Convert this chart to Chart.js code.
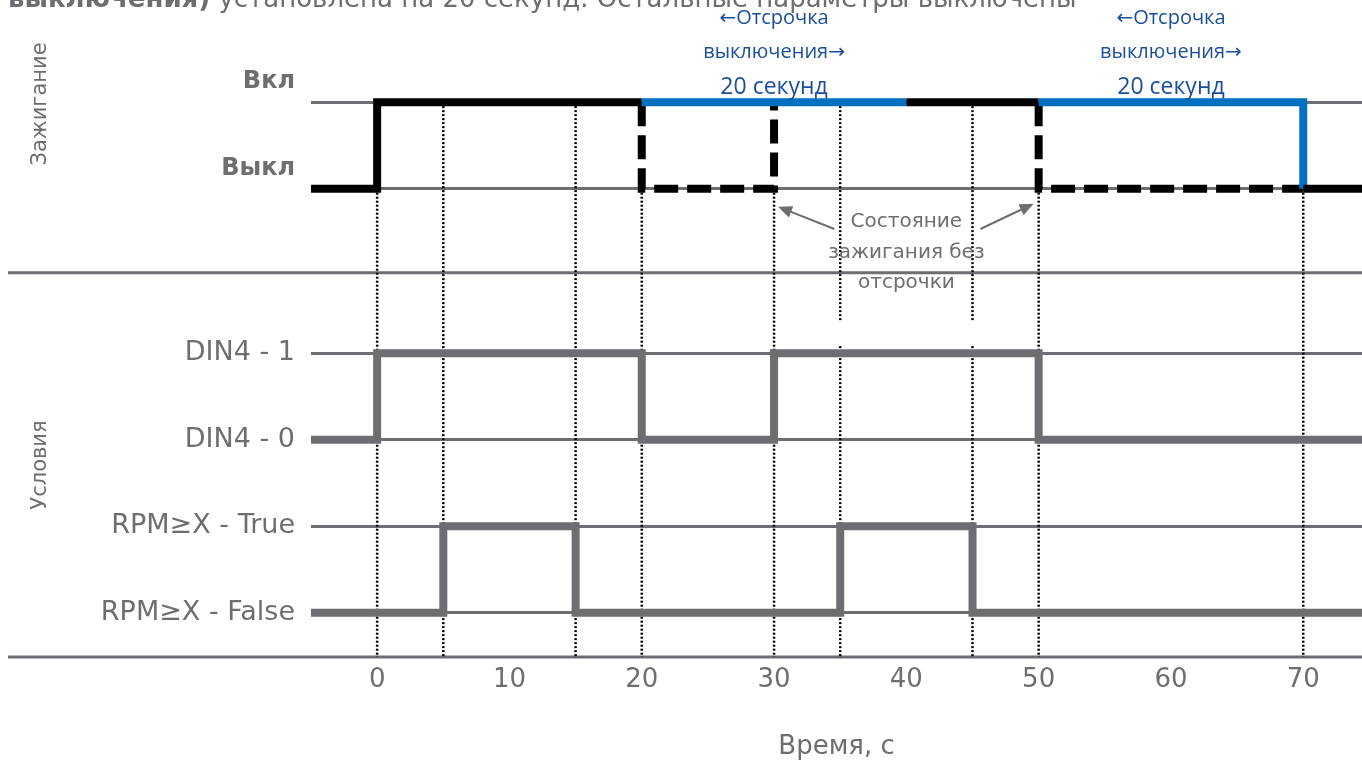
<!DOCTYPE html>
<html>
<head>
<meta charset="utf-8">
<script src="https://cdn.jsdelivr.net/npm/chart.js@4.4.0/dist/chart.umd.min.js"></script>
<style>
  html, body { margin: 0; padding: 0; background: #fff; }
  canvas { display: block; }
</style>
</head>
<body>
<canvas id="grafico" width="1362" height="767"></canvas>
<script>
// уровни по оси Y
var levelNames = ["RPM≥X - False", "RPM≥X - True", "DIN4 - 0", "DIN4 - 1", "Выкл", "Вкл"];
var levelValues = [0, 1, 2, 3, 4.9, 5.9];
var xTicks = [0, 10, 20, 30, 40, 50, 60, 70];

// зажигание с отсрочкой
var ignTime = [-5, 0, 20, 40, 50, 70, 75];
var ignLevel = [4.9, 5.9, 5.9, 5.9, 5.9, 4.9, 4.9];
var delayStart = [20, 50];
var delayEnd = [40, 70];

// зажигание без отсрочки
var rawTime = [20, 20, 30, 40, 50, 50, 70];
var rawLevel = [5.9, 4.9, 5.9, null, 5.9, 4.9, 4.9];

var dinTime = [-5, 0, 20, 30, 50, 75];
var dinLevel = [2, 3, 2, 3, 2, 2];

var rpmTime = [-5, 5, 15, 35, 45, 75];
var rpmLevel = [0, 1, 0, 1, 0, 0];

// вертикальные пунктиры
var markTime = [0, 5, 15, 20, 30, 35, 45, 50, 70];
var markTop = [4.9, 5.9, 5.9, 4.9, 4.9, 5.9, 5.9, 4.9, 4.9];

var gray = "#6d6e71";
var blue = "#0070c0";
var textBlue = "#1b4f9c";
var sepLevel = 3.93;

function pts(t, v) { return t.map((x, i) => ({ x: x, y: v[i] })); }

function inDelay(x) {
  for (var i = 0; i < delayStart.length; i++) {
    if (x >= delayStart[i] && x < delayEnd[i]) return true;
  }
  return false;
}

// текст со стрелками покрупнее
function drawParts(c, parts, cx, y) {
  var total = 0;
  parts.forEach(function (p) { c.font = p[1]; total += c.measureText(p[0]).width; });
  var x = cx - total / 2;
  c.textAlign = "left";
  parts.forEach(function (p) { c.font = p[1]; c.fillText(p[0], x, y + (p[2] || 0)); x += c.measureText(p[0]).width; });
  c.textAlign = "center";
}

var extras = {
  id: "extras",
  beforeDatasetsDraw(chart) {
    var c = chart.ctx, xs = chart.scales.x, ys = chart.scales.y;
    c.save();
    // разделители
    c.strokeStyle = gray;
    c.lineWidth = 3;
    [sepLevel, ys.min].forEach(function (v) {
      var y = ys.getPixelForValue(v);
      c.beginPath(); c.moveTo(8, y); c.lineTo(chart.width, y); c.stroke();
    });
    // пунктиры
    c.strokeStyle = "#000";
    c.lineWidth = 2.5;
    c.setLineDash([2, 2]);
    markTime.forEach(function (t, i) {
      var x = xs.getPixelForValue(t);
      c.beginPath();
      c.moveTo(x, ys.getPixelForValue(markTop[i]));
      c.lineTo(x, ys.getPixelForValue(ys.min));
      c.stroke();
    });
    c.setLineDash([]);
    // белая подложка под подписью
    var cx = xs.getPixelForValue(40);
    c.fillStyle = "#fff";
    c.fillRect(cx - 85, 322, 170, 24);
    c.restore();
  },
  afterDraw(chart) {
    var c = chart.ctx, xs = chart.scales.x, ys = chart.scales.y;
    c.save();
    // подписи слева
    c.fillStyle = gray;
    c.font = "21px 'DejaVu Sans'";
    c.textAlign = "center";
    c.textBaseline = "alphabetic";
    [["Зажигание", 104], ["Условия", 465]].forEach(function (l) {
      c.save(); c.translate(46, l[1]); c.rotate(-Math.PI / 2); c.fillText(l[0], 0, 0); c.restore();
    });
    // отсрочка
    c.fillStyle = textBlue;
    c.textBaseline = "middle";
    var fTxt = "20px 'Open Sans'", fArr = "20px 'DejaVu Sans'";
    delayStart.forEach(function (s, i) {
      var x = xs.getPixelForValue((s + delayEnd[i]) / 2);
      drawParts(c, [["←", fArr, 1], ["Отсрочка", fTxt]], x, 18);
      drawParts(c, [["выключения", fTxt], ["→", fArr, 1]], x, 52);
      c.font = "23px 'Open Sans'";
      c.fillText("20 секунд", x, 87);
    });
    // состояние без отсрочки
    var cx = xs.getPixelForValue(40);
    c.fillStyle = gray;
    c.font = "20px 'DejaVu Sans'";
    c.fillText("Состояние", cx, 222);
    c.fillText("зажигания без", cx, 253);
    c.fillText("отсрочки", cx, 283);
    var yOff = ys.getPixelForValue(4.9);
    arrow(c, cx - 72, 229, xs.getPixelForValue(30) + 4, yOff + 18);
    arrow(c, cx + 74, 229, xs.getPixelForValue(50) - 5, yOff + 15);
    // обрезанный заголовок
    c.textAlign = "left";
    c.textBaseline = "alphabetic";
    c.fillStyle = gray;
    c.font = "bold 26px 'DejaVu Sans'";
    c.fillText("выключения)", 8, 7);
    var w = c.measureText("выключения)").width;
    c.font = "26px 'DejaVu Sans'";
    c.fillText(" установлена на 20 секунд. Остальные параметры выключены", 8 + w, 7);
    c.restore();
  }
};

function arrow(c, x0, y0, x1, y1) {
  var a = Math.atan2(y1 - y0, x1 - x0);
  c.strokeStyle = gray; c.fillStyle = gray; c.lineWidth = 2;
  c.beginPath(); c.moveTo(x0, y0);
  c.lineTo(x1 - 10 * Math.cos(a), y1 - 10 * Math.sin(a)); c.stroke();
  c.beginPath();
  c.moveTo(x1, y1);
  c.lineTo(x1 - 14 * Math.cos(a) + 6 * Math.sin(a), y1 - 14 * Math.sin(a) - 6 * Math.cos(a));
  c.lineTo(x1 - 14 * Math.cos(a) - 6 * Math.sin(a), y1 - 14 * Math.sin(a) + 6 * Math.cos(a));
  c.closePath(); c.fill();
}

var common = { pointRadius: 0, borderWidth: 8, stepped: true, fill: false, borderJoinStyle: "miter", borderCapStyle: "butt", spanGaps: false };

new Chart(document.getElementById("grafico").getContext("2d"), {
  type: "line",
  data: {
    datasets: [
      Object.assign({}, common, {
        label: "Зажигание", order: 0, data: pts(ignTime, ignLevel), borderColor: "#000",
        segment: { borderColor: ctx => inDelay(ctx.p0.parsed.x) ? blue : "#000" }
      }),
      Object.assign({}, common, {
        label: "Без отсрочки", order: 1, data: pts(rawTime, rawLevel), borderColor: "#000", borderDash: [24, 9]
      }),
      Object.assign({}, common, { label: "DIN4", order: 2, data: pts(dinTime, dinLevel), borderColor: gray }),
      Object.assign({}, common, { label: "RPM", order: 2, data: pts(rpmTime, rpmLevel), borderColor: gray })
    ]
  },
  options: {
    responsive: false,
    animation: false,
    layout: { padding: 0 },
    plugins: { legend: { display: false }, tooltip: { enabled: false } },
    scales: {
      x: {
        type: "linear", min: -5, max: 74.44,
        afterBuildTicks: s => { s.ticks = xTicks.map(v => ({ value: v })); },
        afterFit: s => { s.height = 110; s.paddingLeft = 0; s.paddingRight = 0; },
        grid: { display: false }, border: { display: false },
        ticks: { color: gray, font: { family: "'DejaVu Sans'", size: 26 }, padding: 0, maxRotation: 0 },
        title: { display: true, text: "Время, с", color: gray, font: { family: "'DejaVu Sans'", size: 26 }, padding: { top: 4, bottom: 4 } }
      },
      y: {
        type: "linear", min: -0.51, max: 7.08,
        afterBuildTicks: s => { s.ticks = levelValues.map(v => ({ value: v })); },
        afterFit: s => { s.width = 311; s.paddingTop = 0; s.paddingBottom = 0; },
        grid: { color: gray, lineWidth: 3, drawTicks: false }, border: { display: false },
        ticks: {
          padding: 16, color: gray,
          callback: v => { var i = levelValues.indexOf(v); return i >= 4 ? [levelNames[i], ""] : levelNames[i]; },
          font: ctx => (ctx.tick && ctx.tick.value > 4)
            ? { family: "'DejaVu Sans'", size: 24, weight: "bold", lineHeight: 1.7 }
            : { family: "'DejaVu Sans'", size: 27 }
        }
      }
    }
  },
  plugins: [extras]
});
</script>
</body>
</html>
